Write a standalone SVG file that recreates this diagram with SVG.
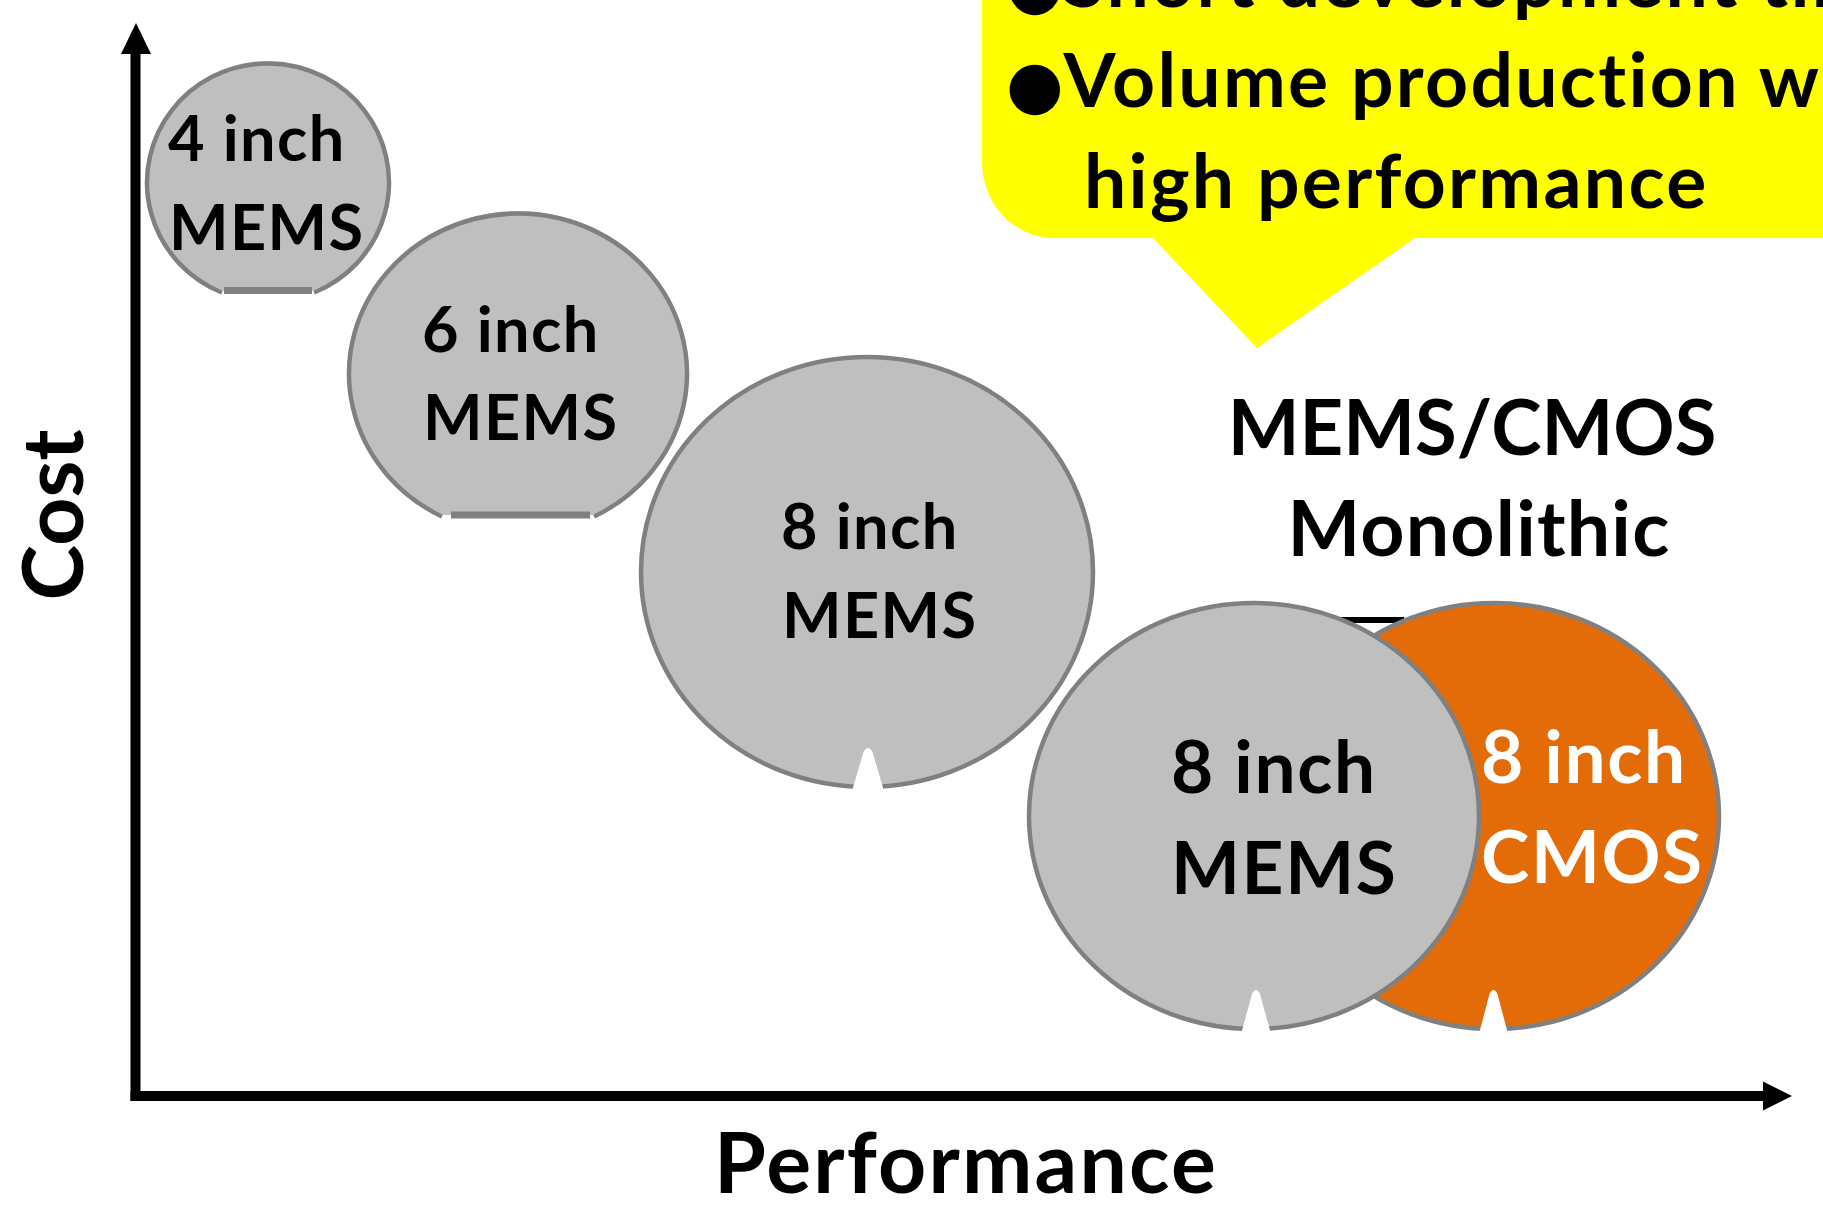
<svg xmlns="http://www.w3.org/2000/svg" width="1823" height="1222" viewBox="0 0 1823 1222">
  <defs>
    <style>
      .lbl { font-family: Lato, "Open Sans", "DejaVu Sans", sans-serif; font-weight: 700; fill: #000; }
      .wafer { fill: #BFBFBF; stroke: #808080; stroke-width: 4.5; }
      .cmos { fill: #E36C09; stroke: #808080; stroke-width: 4.5; }
      .edge { fill: none; stroke: #808080; stroke-width: 4.5; }
      .flat { stroke: #808080; stroke-width: 7; }
      .notch { fill: #FFFFFF; }
      .axis { stroke: #000; stroke-width: 10; fill: none; }
      .w63 { font-size: 63px; letter-spacing: 1.4px; }
      .w73 { font-size: 73px; letter-spacing: 1.6px; }
      .call { font-size: 75px; letter-spacing: 2.3px; }
      .white { fill: #FFFFFF; }
    </style>
  </defs>
  <rect width="1823" height="1222" fill="#FFFFFF"/>

  <!-- yellow callout box (runs off the top and right edges) -->
  <g id="callout">
    <path d="M 982 -20 L 982 162 A 72 76 0 0 0 1054 238 L 1153 238 L 1257 348 L 1415 238 L 1840 238 L 1840 -20 Z" fill="#FFFF00"/>
    <text class="lbl call" x="1006" y="7"><tspan font-family="DejaVu Sans" font-size="66" letter-spacing="0">●</tspan>Short development time</text>
    <text class="lbl call" x="1006" y="107"><tspan font-family="DejaVu Sans" font-size="66" letter-spacing="0">●</tspan>Volume production with</text>
    <text class="lbl call" x="1084" y="208">high performance</text>
  </g>

  <!-- axes -->
  <g id="connectors">
    <line class="axis" x1="135.5" y1="1101" x2="135.5" y2="50"/>
    <polygon points="136,23 151,54 121,54" fill="#000"/>
    <line class="axis" x1="130.5" y1="1096" x2="1766" y2="1096"/>
    <polygon points="1792,1096 1763,1081.5 1763,1110.5" fill="#000"/>
  </g>

  <g id="axis-cost">
    <text class="lbl" font-size="84" text-anchor="middle" transform="translate(83,515) rotate(-90)">Cost</text>
  </g>
  <g id="axis-performance">
    <text class="lbl" font-size="84" letter-spacing="2.2" text-anchor="middle" x="966" y="1193">Performance</text>
  </g>

  <!-- 4 inch wafer -->
  <g id="wafer-4inch">
    <path d="M 311.6 291 A 121 119 0 1 0 224.4 291 Z" fill="#BFBFBF"/>
    <path class="edge" d="M 314 292.5 A 121 119 0 1 0 222 292.5"/>
    <line class="flat" x1="224" y1="290.5" x2="312" y2="290.5"/>
    <text class="lbl w63" x="168" y="161">4 inch</text>
    <text class="lbl w63" x="169" y="250">MEMS</text>
  </g>

  <!-- 6 inch wafer -->
  <g id="wafer-6inch">
    <path d="M 591.7 515 A 169 160 0 1 0 444.3 515 Z" fill="#BFBFBF"/>
    <path class="edge" d="M 594 516.5 A 169 160 0 1 0 442 516.5"/>
    <line class="flat" x1="451" y1="515" x2="590" y2="515"/>
    <text class="lbl w63" x="422" y="352">6 inch</text>
    <text class="lbl w63" x="423" y="440">MEMS</text>
  </g>

  <!-- 8 inch MEMS wafer -->
  <g id="wafer-8inch-mems">
    <ellipse class="wafer" cx="867" cy="572" rx="226" ry="215"/>
    <path class="notch" d="M 852 791 L 863.5 752 Q 868 744 872.5 752 L 884 791 Z"/>
    <text class="lbl w63" x="781" y="549">8 inch</text>
    <text class="lbl w63" x="782" y="638">MEMS</text>
  </g>

  <!-- MEMS/CMOS monolithic pair -->
  <g id="monolithic-label">
    <text class="lbl" font-size="76" text-anchor="middle" x="1472" y="455">MEMS/CMOS</text>
    <text class="lbl" font-size="77" letter-spacing="1.2" text-anchor="middle" x="1479" y="556">Monolithic</text>
  </g>

  <g id="bracket">
    <line x1="1320" y1="620" x2="1404" y2="620" stroke="#000" stroke-width="6"/>
  </g>

  <g id="wafer-8inch-cmos">
    <ellipse class="cmos" cx="1494" cy="816" rx="225" ry="213"/>
    <path class="notch" d="M 1479 1034 L 1489.5 994 Q 1493.5 986 1497.5 994 L 1508 1034 Z"/>
    <text class="lbl w73 white" x="1481" y="783">8 inch</text>
    <text class="lbl w73 white" x="1481" y="883">CMOS</text>
  </g>

  <g id="wafer-8inch-mems-2">
    <ellipse class="wafer" cx="1254" cy="816" rx="225" ry="213"/>
    <path class="notch" d="M 1241 1034 L 1252 994 Q 1256 986 1260 994 L 1271 1034 Z"/>
    <text class="lbl w73" x="1171" y="793">8 inch</text>
    <text class="lbl w73" x="1171" y="894">MEMS</text>
  </g>
</svg>
